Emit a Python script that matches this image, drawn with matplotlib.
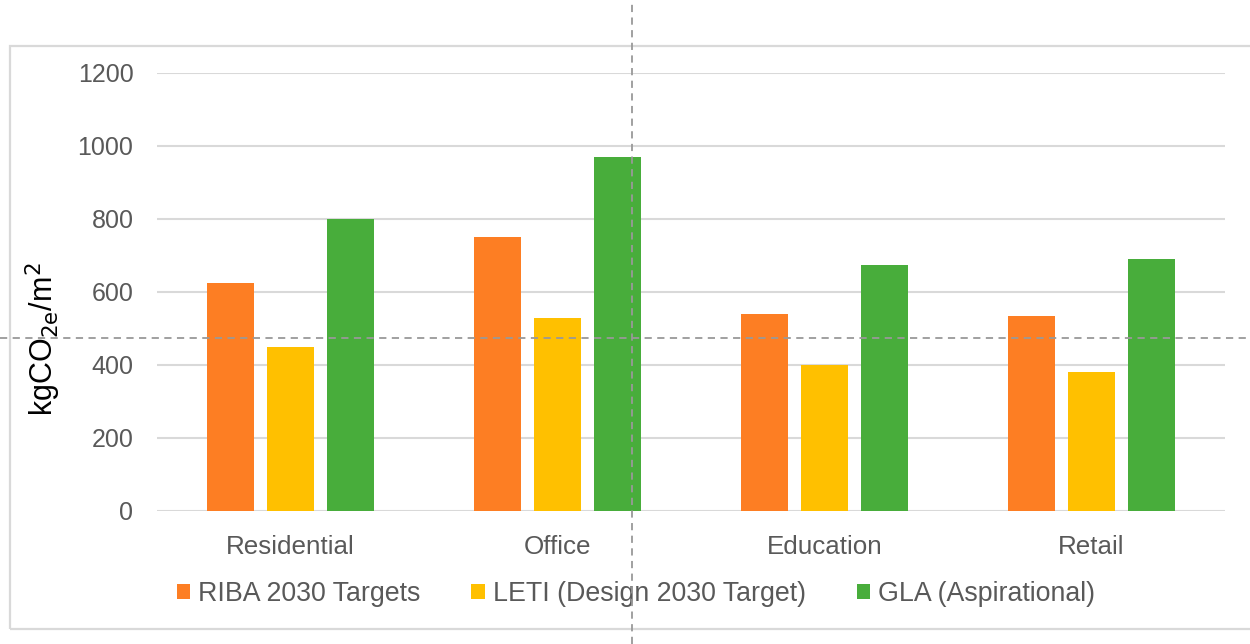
import matplotlib
matplotlib.use("Agg")
import matplotlib.pyplot as plt
from matplotlib.lines import Line2D
from matplotlib.patches import Rectangle
import numpy as np

categories = ["Residential", "Office", "Education", "Retail"]
series_names = ["RIBA 2030 Targets", "LETI (Design 2030 Target)", "GLA (Aspirational)"]
riba = [625, 750, 540, 535]
leti = [450, 530, 400, 380]
gla = [800, 970, 675, 690]
y_ticks = [0, 200, 400, 600, 800, 1000, 1200]

colors = ["#FD7E23", "#FFC000", "#48AD3B"]
grid_color = "#D9D9D9"
text_color = "#595959"

plt.rcParams["font.family"] = ["Liberation Sans", "DejaVu Sans"]

W, H = 1250, 644
fig = plt.figure(figsize=(W / 100, H / 100), dpi=100)
fig.patch.set_facecolor("white")

# outer chart frame (right side runs off the canvas)
fig.add_artist(Rectangle((10 / W, 1 - 629 / H), 1.2, (629 - 46) / H,
                         transform=fig.transFigure, fill=False,
                         edgecolor=grid_color, linewidth=1.6, zorder=0))

ax = fig.add_axes([157 / W, 1 - 511 / H, (1225 - 157) / W, (511 - 73) / H])
x = np.arange(len(categories))
width = 0.176
offset = 0.225
for i, (vals, name) in enumerate(zip([riba, leti, gla], series_names)):
    ax.bar(x + (i - 1) * offset, vals, width, color=colors[i], label=name, zorder=3)

ax.set_xlim(-0.5, len(categories) - 0.5)
ax.set_ylim(0, 1200)
ax.set_yticks(y_ticks)
ax.set_yticklabels([str(t) for t in y_ticks])
ax.set_xticks(x)
ax.set_xticklabels(categories)
ax.tick_params(axis="both", length=0, colors=text_color)
ax.tick_params(axis="y", pad=17, labelsize=18)
ax.tick_params(axis="x", pad=17, labelsize=18.7)
ax.yaxis.grid(True, color=grid_color, linewidth=1.5, zorder=0)
ax.set_axisbelow(True)
for s in ax.spines.values():
    s.set_visible(False)

fig.text(43 / W, 1 - 339 / H, r"kgCO$_{2\mathrm{e}}$/m$^2$", rotation=90,
         ha="center", va="center", fontsize=22, color="black")

leg = fig.legend(loc="center", bbox_to_anchor=(636 / W, 1 - 594 / H), ncol=3,
                 frameon=False, fontsize=19.3, handlelength=0.5, handleheight=0.5,
                 handletextpad=0.3, columnspacing=1.9, labelcolor=text_color)

# dashed crosshair guides
fig.add_artist(Line2D([632 / W, 632 / W], [0, 1], transform=fig.transFigure,
                      color="#999999", linestyle=(0, (4, 3)), linewidth=1.3, zorder=10))
fig.add_artist(Line2D([0, 1], [1 - 338 / H, 1 - 338 / H], transform=fig.transFigure,
                      color="#999999", linestyle=(0, (4, 3)), linewidth=1.3, zorder=10))

fig.savefig("out.png", dpi=100, facecolor="white")
